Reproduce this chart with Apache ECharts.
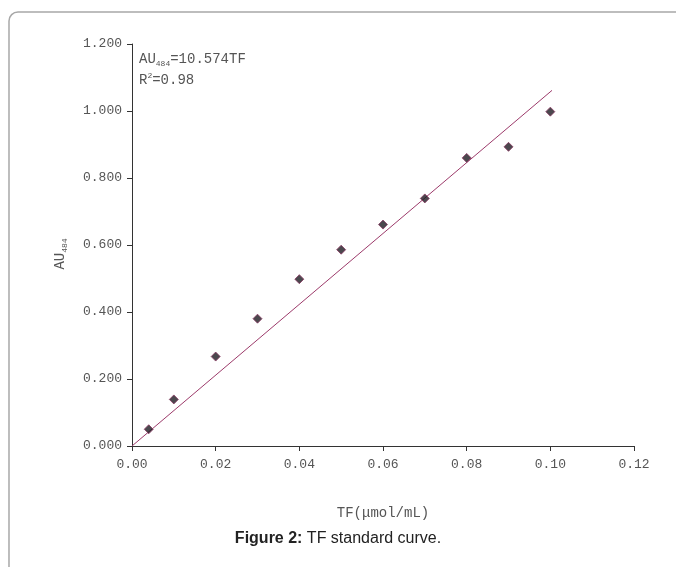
<!DOCTYPE html>
<html>
<head>
<meta charset="utf-8">
<script src="https://cdn.jsdelivr.net/npm/echarts@6/dist/echarts.min.js"></script>
<style>
  html, body { margin: 0; padding: 0; background: #fff; }
  #main { width: 676px; height: 567px; }
</style>
</head>
<body>
<div id="main"></div>
<script>
// TF concentration (umol/mL) and measured absorbance
var tfValues = [0.004, 0.01, 0.02, 0.03, 0.04, 0.05, 0.06, 0.07, 0.08, 0.09, 0.10];
var auValues = [0.050, 0.139, 0.267, 0.380, 0.498, 0.586, 0.661, 0.739, 0.860, 0.893, 0.998];
// fitted line end points
var fitLine = [[0, 0], [0.1004, 1.0616]];
var yTicks = ['0.000', '0.200', '0.400', '0.600', '0.800', '1.000', '1.200'];
var xTicks = ['0.00', '0.02', '0.04', '0.06', '0.08', '0.10', '0.12'];

var points = tfValues.map(function (x, i) { return [x, auValues[i]]; });
var mono = 'Liberation Mono';
var txt = '#555';

var myChart = echarts.init(document.getElementById('main'));
myChart.setOption({
  animation: false,
  backgroundColor: '#fff',
  grid: { left: 132, right: 42, top: 44, bottom: 121 },
  xAxis: {
    type: 'value',
    min: 0, max: 0.12, interval: 0.02,
    name: 'TF(μmol/mL)',
    nameLocation: 'middle',
    nameGap: 60,
    nameTextStyle: { fontFamily: mono, fontSize: 14, color: txt },
    splitLine: { show: false },
    axisLine: { lineStyle: { color: '#333', width: 1 } },
    axisTick: { length: 5, lineStyle: { color: '#333' } },
    axisLabel: {
      margin: 12, fontFamily: mono, fontSize: 13, color: txt,
      formatter: function (v) { return xTicks[Math.round(v / 0.02)]; }
    }
  },
  yAxis: {
    type: 'value',
    min: 0, max: 1.2, interval: 0.2,
    splitLine: { show: false },
    axisLine: { show: true, lineStyle: { color: '#333', width: 1 } },
    axisTick: { show: true, length: 5, lineStyle: { color: '#333' } },
    axisLabel: {
      margin: 10, fontFamily: mono, fontSize: 13, color: txt,
      formatter: function (v) { return yTicks[Math.round(v / 0.2)]; }
    }
  },
  graphic: [
    {
      type: 'rect', silent: true,
      shape: { x: 9, y: 12, width: 720, height: 620, r: 9 },
      style: { fill: 'none', stroke: '#a8a8a8', lineWidth: 1.5 }
    },
    {
      // y axis title, rotated
      type: 'text', x: 60, y: 254, rotation: Math.PI / 2,
      style: {
        text: '{a|AU}{s|484}',
        fontFamily: mono, fontSize: 14, fill: txt,
        align: 'center', verticalAlign: 'middle',
        rich: {
          a: { fontFamily: mono, fontSize: 14, fill: txt },
          s: { fontFamily: mono, fontSize: 8, fill: txt, padding: [9, 0, 0, 0] }
        }
      }
    },
    {
      type: 'text', left: 139, top: 52,
      style: {
        text: '{a|AU}{s|484}{a|=10.574TF}\n{a|R}{p|2}{a|=0.98}',
        fontFamily: mono, fontSize: 14, fill: txt,
        rich: {
          a: { fontFamily: mono, fontSize: 14, fill: txt, lineHeight: 21 },
          s: { fontFamily: mono, fontSize: 8, fill: txt, padding: [9, 0, 0, 0] },
          p: { fontFamily: mono, fontSize: 8, fill: txt, padding: [0, 0, 8, 0] }
        }
      }
    },
    {
      type: 'text', left: 'center', top: 531,
      style: {
        text: '{b|Figure 2:} {n|TF standard curve.}',
        fontFamily: 'Liberation Sans', fontSize: 16, fill: '#222',
        rich: {
          b: { fontFamily: 'Liberation Sans', fontWeight: 'bold', fontSize: 16, fill: '#222' },
          n: { fontFamily: 'Liberation Sans', fontSize: 16, fill: '#222' }
        }
      }
    }
  ],
  series: [
    {
      type: 'line',
      data: fitLine,
      symbol: 'none',
      lineStyle: { color: '#9c3a6a', width: 1 },
      z: 2
    },
    {
      type: 'scatter',
      data: points,
      symbol: 'diamond',
      symbolSize: 9,
      itemStyle: { color: '#1e1a22', borderColor: '#8a3a62', borderWidth: 1 },
      z: 3
    }
  ]
});
</script>
</body>
</html>
